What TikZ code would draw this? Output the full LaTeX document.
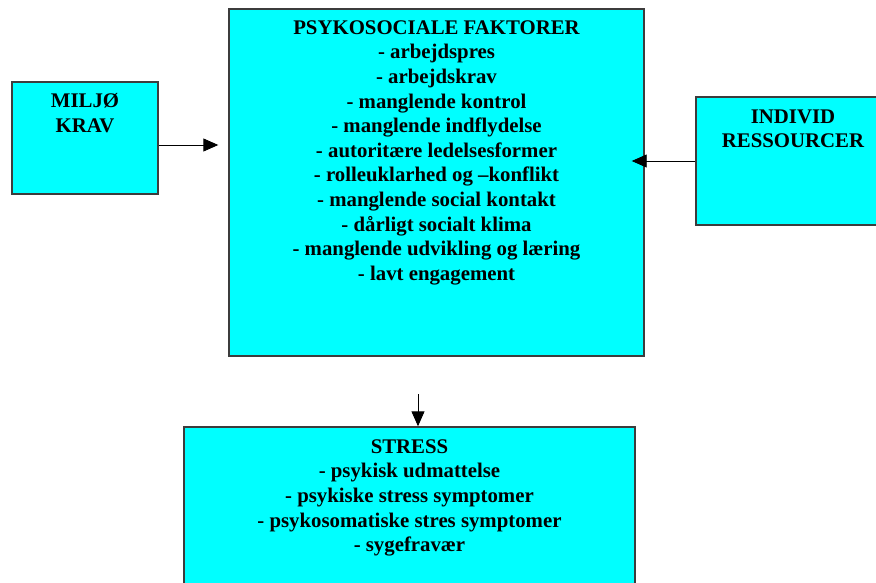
\documentclass[tikz,border=0pt]{standalone}
\usepackage{fontspec}
\setmainfont{Liberation Serif}
\usetikzlibrary{positioning,arrows.meta}

\definecolor{boxcyan}{RGB}{0,255,255}
\definecolor{boxline}{RGB}{60,60,60}

\begin{document}
\begin{tikzpicture}[
    x=1pt, y=-1pt,
    box/.style={draw=boxline, line width=1.4pt, fill=boxcyan, inner sep=0pt},
    boxtext/.style={inner sep=0pt, align=center,
        font=\fontsize{20.8}{24.6}\selectfont\bfseries},
    >={Triangle[length=15pt,width=13pt]},
    arr/.style={->, line width=0.9pt}
]
\useasboundingbox (0,0) rectangle (876,583);

% Cajas
\node[box, minimum width=146pt, minimum height=112pt] (miljo) at (85,138) {};
\node[box, minimum width=415pt, minimum height=347pt] (psyk) at (436.5,182.5) {};
\node[box, minimum width=194pt, minimum height=128pt] (individ) at (793,161) {};
\node[box, minimum width=451pt, minimum height=173pt] (stress) at (409.5,513.5) {};

% Textos de las cajas
\node[boxtext, below=12pt of miljo.north] (miljotxt)
    {MILJØ\\KRAV};

\node[boxtext, below=13pt of individ.north] (individtxt)
    {INDIVID\\RESSOURCER};

\node[boxtext, below=12pt of psyk.north] (psyktxt)
    {PSYKOSOCIALE FAKTORER\\
     - arbejdspres\\
     - arbejdskrav\\
     - manglende kontrol\\
     - manglende indflydelse\\
     - autoritære ledelsesformer\\
     - rolleuklarhed og –konflikt\\
     - manglende social kontakt\\
     - dårligt socialt klima\\
     - manglende udvikling og læring\\
     - lavt engagement};

\node[boxtext, below=13pt of stress.north] (stresstxt)
    {STRESS\\
     - psykisk udmattelse\\
     - psykiske stress symptomer\\
     - psykosomatiske stres symptomer\\
     - sygefravær};

% Flechas
\coordinate (inL) at ([yshift=-7pt]miljo.east);
\draw[arr, shorten >=10pt] (inL) -- (psyk.west |- inL);

\draw[arr, shorten >=-13pt] (individ.west) -- (psyk.east |- individ.west);

\coordinate (down) at (418,394);
\draw[arr] (down) -- (down |- stress.north);

\end{tikzpicture}
\end{document}
